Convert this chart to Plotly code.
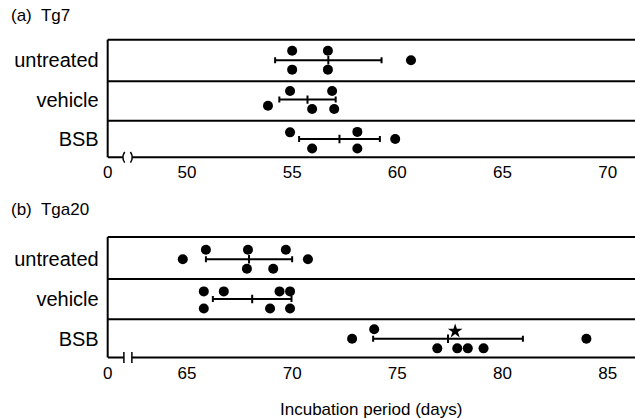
import plotly.graph_objects as go

# ---------------- data ----------------
groups = ["untreated", "vehicle", "BSB"]

# Panel (a) Tg7 : individual incubation periods (days)
a_untreated = [55.0, 56.7, 60.65, 55.0, 56.7]
a_vehicle = [54.9, 56.9, 53.85, 55.95, 57.0]
a_bsb = [54.9, 58.1, 59.9, 55.95, 58.1]
a_means = [56.72, 55.73, 57.25]
a_sd = [2.53, 1.34, 1.92]

# Panel (b) Tga20
b_untreated = [65.9, 67.9, 69.7, 64.8, 70.75, 67.85, 69.1]
b_vehicle = [65.8, 66.75, 69.4, 69.9, 65.8, 68.95, 69.9]
b_bsb = [73.9, 72.85, 83.99, 76.9, 77.85, 78.35, 79.1]
b_star = [77.75]
b_means = [67.95, 68.1, 77.41]
b_sd = [2.05, 1.87, 3.56]

# tick labels
a_ticks = [50, 55, 60, 65, 70]
b_ticks = [65, 70, 75, 80, 85]

# ---------------- layout helpers (positions / jitter) ----------------
JIT = 0.24
a_rows = {
    "untreated": [1, 1, 0, -1, -1],
    "vehicle": [0.9, 0.9, -0.65, -1, -1],
    "BSB": [0.7, 0.75, 0, -1, -1],
}
b_rows = {
    "untreated": [1, 1, 1, 0, 0, -1, -1],
    "vehicle": [0.8, 0.8, 0.8, 0.8, -1, -1, -1],
    "BSB": [1, 0, 0, -1, -1, -1, -1],
}
b_star_row = [0.8]
centers = {"untreated": 2, "vehicle": 1, "BSB": 0}

W, H = 635, 418
FONT = "Liberation Sans, Arial, Helvetica, sans-serif"
left_px = 103.5
a_range = [46.23, 71.30]
b_range = [61.23, 86.30]
a_yrange = [-0.465, 2.52]
b_yrange = [-0.47, 2.56]

fig = go.Figure()


def add_panel(xa, ya, data, rows, means, sds):
    for g, vals in zip(groups, data):
        fig.add_trace(go.Scatter(
            x=vals, y=[centers[g] + r * JIT for r in rows[g]],
            mode="markers", xaxis=xa, yaxis=ya, showlegend=False,
            marker=dict(color="black", size=10, line=dict(width=0)),
            hoverinfo="x"))
    fig.add_trace(go.Scatter(
        x=means, y=[centers[g] for g in groups], mode="markers",
        xaxis=xa, yaxis=ya, showlegend=False,
        marker=dict(symbol="line-ns", size=6, line=dict(color="black", width=2)),
        error_x=dict(type="data", array=sds, visible=True, color="black",
                     thickness=2, width=3)))


add_panel("x", "y", [a_untreated, a_vehicle, a_bsb], a_rows, a_means, a_sd)
add_panel("x2", "y2", [b_untreated, b_vehicle, b_bsb], b_rows, b_means, b_sd)
fig.add_trace(go.Scatter(
    x=b_star, y=[centers["BSB"] + r * JIT for r in b_star_row], mode="markers",
    xaxis="x2", yaxis="y2", showlegend=False,
    marker=dict(symbol="star", size=11, color="black", line=dict(width=0))))

xdom = [left_px / W, 1.0]
a_ydom = [1 - 157.3 / H, 1 - 39.7 / H]
b_ydom = [1 - 357.5 / H, 1 - 237.0 / H]

xfont = dict(family=FONT, size=17, color="black")
yfont = dict(family=FONT, size=20, color="black")
common_x = dict(showgrid=False, zeroline=False, showline=False, ticks="",
                tickfont=xfont, ticklabelstandoff=3, fixedrange=True)
common_y = dict(showgrid=False, zeroline=False, showline=False, ticks="",
                tickfont=yfont, tickvals=[2, 1, 0], ticktext=groups,
                ticklabelstandoff=8, fixedrange=True)

fig.update_layout(
    width=W, height=H,
    margin=dict(l=0, r=0, t=0, b=0),
    paper_bgcolor="white", plot_bgcolor="white",
    font=dict(family=FONT, color="black"),
    xaxis=dict(domain=xdom, range=a_range, anchor="y",
               tickvals=[a_range[0]] + a_ticks,
               ticktext=["0"] + [str(t) for t in a_ticks], **common_x),
    yaxis=dict(domain=a_ydom, range=a_yrange, anchor="x", **common_y),
    xaxis2=dict(domain=xdom, range=b_range, anchor="y2",
                tickvals=[b_range[0]] + b_ticks,
                ticktext=["0"] + [str(t) for t in b_ticks], **common_x),
    yaxis2=dict(domain=b_ydom, range=b_yrange, anchor="x2", **common_y),
)

shapes = []
LW = 2


def frame(xr, yr, xrange_, dividers, brk, style):
    shapes.append(dict(type="line", xref=xr + " domain", yref=yr + " domain",
                       x0=0, x1=1, y0=1, y1=1, line=dict(color="black", width=LW)))
    shapes.append(dict(type="line", xref=xr + " domain", yref=yr + " domain",
                       x0=0, x1=0, y0=0, y1=1, line=dict(color="black", width=LW)))
    for d in dividers:
        shapes.append(dict(type="line", xref=xr + " domain", yref=yr,
                           x0=0, x1=1, y0=d, y1=d, line=dict(color="black", width=LW)))
    shapes.append(dict(type="line", xref=xr, yref=yr + " domain",
                       x0=xrange_[0], x1=brk[0], y0=0, y1=0,
                       line=dict(color="black", width=LW)))
    shapes.append(dict(type="line", xref=xr, yref=yr + " domain",
                       x0=brk[1], x1=xrange_[1], y0=0, y1=0,
                       line=dict(color="black", width=LW)))
    h = 0.045
    if style == "paren":
        c = 0.09
        shapes.append(dict(type="path", xref=xr, yref=yr + " domain",
                           path=f"M {brk[0]+c},{h} Q {brk[0]-c},0 {brk[0]+c},{-h}",
                           line=dict(color="black", width=1.5)))
        shapes.append(dict(type="path", xref=xr, yref=yr + " domain",
                           path=f"M {brk[1]-c},{h} Q {brk[1]+c},0 {brk[1]-c},{-h}",
                           line=dict(color="black", width=1.5)))
    else:
        for bx in brk:
            shapes.append(dict(type="line", xref=xr, yref=yr + " domain",
                               x0=bx, x1=bx, y0=-h, y1=h,
                               line=dict(color="black", width=1.5)))


frame("x", "y", a_range, [1.464, 0.464], [46.95, 47.40], "paren")
frame("x2", "y2", b_range, [1.502, 0.494], [62.0, 62.38], "bar")
fig.update_layout(shapes=shapes)

fig.add_annotation(text="(a)  Tg7", xref="paper", yref="paper", x=4 / W, y=1 - 16 / H,
                   xanchor="left", yanchor="middle", showarrow=False,
                   font=dict(family=FONT, size=17, color="black"))
fig.add_annotation(text="(b)  Tga20", xref="paper", yref="paper", x=4 / W, y=1 - 210 / H,
                   xanchor="left", yanchor="middle", showarrow=False,
                   font=dict(family=FONT, size=17, color="black"))
fig.add_annotation(text="Incubation period (days)", xref="paper", yref="paper",
                   x=(left_px + W) / 2 / W, y=1 - 409 / H,
                   xanchor="center", yanchor="middle", showarrow=False,
                   font=dict(family=FONT, size=17, color="black"))

fig.write_html("out.html",
               config={"displayModeBar": False, "staticPlot": True},
               post_script="document.body.style.margin='0';document.body.style.padding='0';")
